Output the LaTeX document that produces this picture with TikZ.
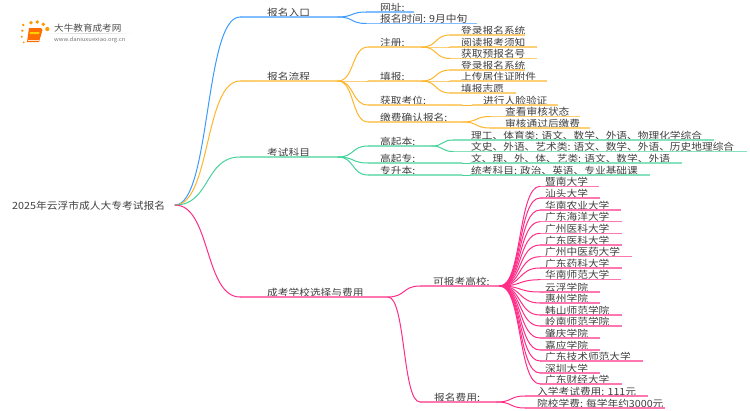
\documentclass[tikz,border=0pt]{standalone}
\usepackage{fontspec}
\setmainfont{Noto Sans CJK SC}
\usetikzlibrary{calc}
\definecolor{cblue}{HTML}{3C9BFF}
\definecolor{corange}{HTML}{FFB52B}
\definecolor{cgreen}{HTML}{45D39A}
\definecolor{cpink}{HTML}{FF2D87}
\definecolor{ctext}{HTML}{404040}
\tikzset{
  lbl/.style={anchor=base west,inner sep=0pt,text=ctext,font=\fontsize{10.7}{12}\selectfont,yscale=.92,transform shape},
  conn/.style={line width=1pt,line cap=round},
  rule/.style={line width=1.4pt,#1!65!white},
  dotlogo/.style={fill=#1,draw=none},
}
\newcommand{\mmitem}[8]{%
  \coordinate (#1-s) at (#4,-#6);
  \coordinate (#1) at (#5,-#6);
  \node[lbl] (#1-t) at (#7,-#6+1) {#8};
  \draw[rule=#3] (#1-s) -- (#1);
  \draw[conn,#3] (#2) .. controls ($(#2)!.55!(#1-s |- #2)$) and ($(#1-s)!.55!(#2 |- #1-s)$) .. (#1-s);
}
\begin{document}
\begin{tikzpicture}[x=1pt,y=1pt]
\useasboundingbox (0,0) rectangle (750,-410);
% logo
\foreach \n/\px/\py/\r in {d1/23.3/25/1.4,d2/31/22.7/1.8,d3/37.3/22/1.9,d4/43.3/24.3/1.9,d5/47.3/29/2.1,d6/22.3/30.7/1.3,d7/21.7/36.7/1.1,d8/23.7/42.3/1}
  \fill[dotlogo=orange!80!yellow] (\px,-\py) circle (\r);
\fill[orange!85!red] (29,-28) -- (41,-28) -- (42.5,-30) -- (39,-42) -- (27,-42) -- cycle;
\fill[yellow!70!orange] (30,-32) -- (39.5,-32) -- (39,-34) -- (29.5,-34) -- cycle;
\fill[white!80!orange] (27.5,-40) -- (38.5,-40) -- (38.5,-41) -- (27.5,-41) -- cycle;
\node[lbl,text=black!70,font=\fontsize{9.6}{11}\selectfont] (logoa) at (54,-31) {大牛教育成考网};
\node[lbl,text=black!55,font=\fontsize{5.9}{8}\selectfont] (logob) at (54,-41) {www.daniuxuexiao.org.cn};
\shade[left color=white,right color=white,middle color=black!18] (45,-33.2) rectangle (133,-33.8);
% root
\node[lbl,font=\fontsize{10.75}{12}\selectfont] (roott) at (12,-209) {2025年云浮市成人大专考试报名};
\coordinate (root) at (175,-205);
% level 1
\mmitem{a}{root}{cblue}{240}{338}{17}{267}{报名入口}
\mmitem{b}{root}{corange}{240}{338}{81}{267}{报名流程}
\mmitem{c}{root}{cgreen}{240}{338}{157}{267}{考试科目}
\mmitem{d}{root}{cpink}{240}{388}{297}{267}{成考学校选择与费用}
% entry
\mmitem{a1}{a}{cblue}{366}{414}{12}{380}{网址:}
\mmitem{a2}{a}{cblue}{366}{477}{23.5}{380}{报名时间: 9月中旬}
% process
\mmitem{b1}{b}{corange}{368}{422}{47}{380}{注册:}
\mmitem{b2}{b}{corange}{368}{422}{81}{380}{填报:}
\mmitem{b3}{b}{corange}{368}{462}{105}{380}{获取考位:}
\mmitem{b4}{b}{corange}{368}{463}{122}{380}{缴费确认报名:}
\mmitem{b11}{b1}{corange}{450}{525}{35}{461}{登录报名系统}
\mmitem{b12}{b1}{corange}{450}{537}{47}{461}{阅读报考须知}
\mmitem{b13}{b1}{corange}{450}{537}{58.5}{461}{获取预报名号}
\mmitem{b21}{b2}{corange}{450}{525}{70}{461}{登录报名系统}
\mmitem{b22}{b2}{corange}{450}{547}{81}{461}{上传居住证附件}
\mmitem{b23}{b2}{corange}{450}{516}{93}{461}{填报志愿}
\mmitem{b31}{b3}{corange}{472}{558}{105}{483}{进行人脸验证}
\mmitem{b41}{b4}{corange}{490}{580}{116.5}{505}{查看审核状态}
\mmitem{b42}{b4}{corange}{490}{590}{128}{505}{审核通过后缴费}
% subjects
\mmitem{c1}{c}{cgreen}{368}{432}{146}{380}{高起本:}
\mmitem{c2}{c}{cgreen}{368}{462}{163}{380}{高起专:}
\mmitem{c3}{c}{cgreen}{368}{462}{175}{380}{专升本:}
\mmitem{c11}{c1}{cgreen}{453}{714}{140}{471}{理工、体育类: 语文、数学、外语、物理化学综合}
\mmitem{c12}{c1}{cgreen}{453}{747}{151.5}{471}{文史、外语、艺术类: 语文、数学、外语、历史地理综合}
\mmitem{c21}{c2}{cgreen}{470}{682}{163}{471}{文、理、外、体、艺类: 语文、数学、外语}
\mmitem{c31}{c3}{cgreen}{470}{650}{175}{471}{统考科目: 政治、英语、专业基础课}
% schools
\mmitem{d1}{d}{cpink}{420}{500}{286}{433}{可报考高校:}
\mmitem{d2}{d}{cpink}{420}{497}{402}{434}{报名费用:}
\mmitem{s1}{d1}{cpink}{540}{599}{186.3}{545}{暨南大学}
\mmitem{s2}{d1}{cpink}{540}{600}{198}{545}{汕头大学}
\mmitem{s3}{d1}{cpink}{540}{621}{210}{545}{华南农业大学}
\mmitem{s4}{d1}{cpink}{540}{622}{221.7}{545}{广东海洋大学}
\mmitem{s5}{d1}{cpink}{540}{622}{233.3}{545}{广州医科大学}
\mmitem{s6}{d1}{cpink}{540}{622}{245}{545}{广东医科大学}
\mmitem{s7}{d1}{cpink}{540}{632}{256.7}{545}{广州中医药大学}
\mmitem{s8}{d1}{cpink}{540}{622}{268}{545}{广东药科大学}
\mmitem{s9}{d1}{cpink}{540}{621}{279.7}{545}{华南师范大学}
\mmitem{s10}{d1}{cpink}{540}{600}{292}{545}{云浮学院}
\mmitem{s11}{d1}{cpink}{540}{600}{303}{545}{惠州学院}
\mmitem{s12}{d1}{cpink}{540}{622}{315}{545}{韩山师范学院}
\mmitem{s13}{d1}{cpink}{540}{622}{326}{545}{岭南师范学院}
\mmitem{s14}{d1}{cpink}{540}{600}{338}{545}{肇庆学院}
\mmitem{s15}{d1}{cpink}{540}{600}{350}{545}{嘉应学院}
\mmitem{s16}{d1}{cpink}{540}{643}{361}{545}{广东技术师范大学}
\mmitem{s17}{d1}{cpink}{540}{600}{373}{545}{深圳大学}
\mmitem{s18}{d1}{cpink}{540}{622}{384}{545}{广东财经大学}
\mmitem{f1}{d2}{cpink}{525}{648}{396}{537}{入学考试费用: 111元}
\mmitem{f2}{d2}{cpink}{525}{665}{408}{537}{院校学费: 每学年约3000元}
\end{tikzpicture}
\end{document}
